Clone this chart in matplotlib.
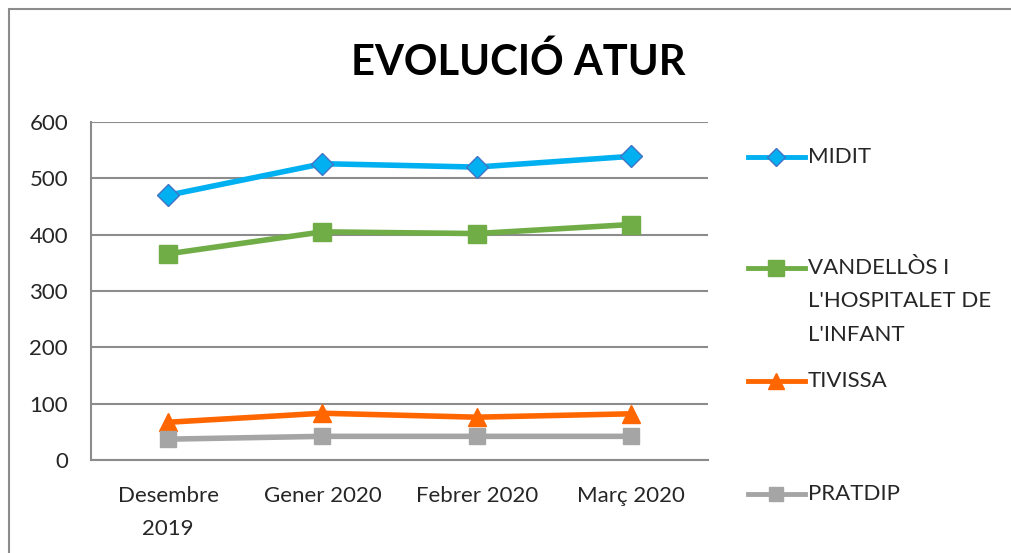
import matplotlib.pyplot as plt
from matplotlib.lines import Line2D
from matplotlib.patches import Rectangle

months = ['Desembre\n2019', 'Gener 2020', 'Febrer 2020', 'Març 2020']
midit = [470, 526, 520, 539]
vandellos = [366, 405, 402, 418]
tivissa = [67, 83, 76, 82]
pratdip = [37, 42, 42, 42]

labels = ['MIDIT', "VANDELLÒS I\nL'HOSPITALET DE\nL'INFANT", 'TIVISSA', 'PRATDIP']
colors = ['#00B0F0', '#70AD47', '#FF6600', '#A5A5A5']
markers = ['D', 's', '^', 's']
edges = ['#4472C4', '#70AD47', '#FF6600', '#A5A5A5']

plt.rcParams['font.family'] = ['Lato', 'DejaVu Sans']

fig = plt.figure(figsize=(10.12, 5.53), dpi=100)
# outer chart border (continues past the right and bottom edges)
fig.add_artist(Rectangle((9 / 1012, -0.1), 1.1, 1.1 - 9 / 553, transform=fig.transFigure,
                         fill=False, edgecolor='#8C8C8C', linewidth=1.5))
ax = fig.add_axes([91 / 1012, 1 - 460 / 553, 617 / 1012, 338 / 553])

x = list(range(len(months)))
series = [midit, vandellos, tivissa, pratdip]
msizes = [11, 13, 13, 12]
for vals, c, m, e, ms in zip(series, colors, markers, edges, msizes):
    ax.plot(x, vals, color=c, linewidth=4, marker=m, markersize=ms,
            markerfacecolor=c, markeredgecolor=e, markeredgewidth=1, zorder=3)

ax.set_xlim(-0.5, 3.5)
ax.set_ylim(0, 600)
ax.set_yticks(range(0, 601, 100))
ax.set_xticks(x)
ax.set_xticklabels(months)
ax.tick_params(length=0, labelsize=16, colors='#262626')
ax.tick_params(axis='x', pad=19)
ax.tick_params(axis='y', pad=16.5)
for lbl in ax.get_xticklabels():
    lbl.set_linespacing(1.8)
ax.grid(axis='y', color='#8C8C8C', linewidth=1.5)
ax.set_axisbelow(True)
for s in ['top', 'right']:
    ax.spines[s].set_visible(False)
for s in ['left', 'bottom']:
    ax.spines[s].set_color('#8C8C8C')
    ax.spines[s].set_linewidth(1.5)

fig.text(0.512, 1 - 62 / 553, 'EVOLUCIÓ ATUR', ha='center', va='center',
         fontsize=30, fontweight='bold', color='black')

# legend on the right
leg_y = [157, 268, 381, 494]
for lab, c, m, e, ms, yy in zip(labels, colors, markers, edges, msizes, leg_y):
    yf = 1 - yy / 553
    fig.add_artist(Line2D([748 / 1012, 776 / 1012, 805 / 1012], [yf, yf, yf],
                          transform=fig.transFigure, color=c, linewidth=3.5,
                          marker=m, markersize=ms - 2, markevery=[1],
                          markerfacecolor=c, markeredgecolor=e, markeredgewidth=1))
    fig.text(808 / 1012, 1 - (yy - 10) / 553, lab, ha='left', va='top',
             fontsize=16, color='#262626', linespacing=1.84)

fig.savefig('out.png', dpi=100)
